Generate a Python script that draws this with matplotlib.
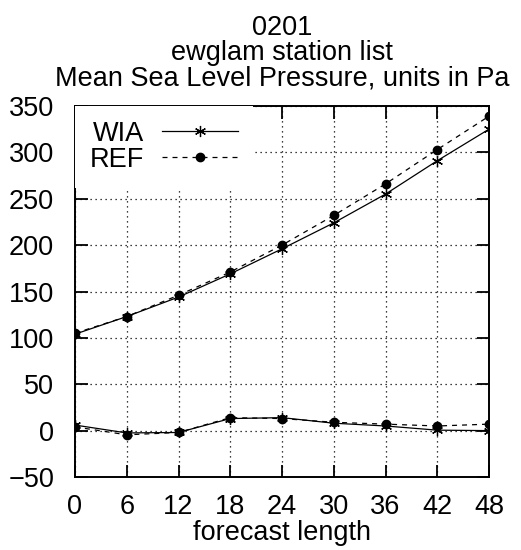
import numpy as np
import matplotlib.pyplot as plt

plt.rcParams['font.family'] = ['Liberation Sans', 'DejaVu Sans']

# forecast length (hours)
fclen = [0, 6, 12, 18, 24, 30, 36, 42, 48]

# rmse
wia_rms = [104, 123, 144, 169, 196, 224, 255, 291, 325]
ref_rms = [105, 123, 146, 171, 200, 232, 266, 303, 339]
# bias
wia_bias = [6, -2.5, -2, 13, 14, 8, 5, 0.5, 0]
ref_bias = [4, -4.5, -2, 14, 13, 9, 7, 5, 7]

fs = 19.5
fig = plt.figure(figsize=(5.21, 5.5), dpi=100)
ax = fig.add_axes([75/521, 1-477/550, 414/521, 371/550])

star = (6, 2, 0)
ax.plot(fclen, wia_rms, color='black', lw=0.9, marker=star, ms=8, mew=0.9, label='WIA')
ax.plot(fclen, ref_rms, color='black', lw=0.9, ls=(0, (4, 4)), marker='o', ms=6, label='REF')
ax.plot(fclen, wia_bias, color='black', lw=0.9, marker=star, ms=8, mew=0.9)
ax.plot(fclen, ref_bias, color='black', lw=0.9, ls=(0, (4, 4)), marker='o', ms=6)

ax.set_xlim(0, 48)
ax.set_ylim(-50, 350)
ax.set_xticks(fclen)
ax.set_yticks(np.arange(-50, 351, 50))
ax.set_yticklabels(['\u221250'] + [str(v) for v in range(0, 351, 50)])
ax.grid(True, color='black', ls=(0, (1, 3)), lw=0.9)
ax.tick_params(direction='in', top=True, right=True, length=9, width=1.3,
               labelsize=fs)
ax.tick_params(axis='y', pad=15)
ax.tick_params(axis='x', pad=12)
for s in ax.spines.values():
    s.set_linewidth(1.4)

ax.set_xlabel('forecast length', fontsize=fs, labelpad=0)
ax.set_title('0201\newglam station list\nMean Sea Level Pressure, units in Pa',
             fontsize=fs, linespacing=0.95, pad=15)

leg = ax.legend(loc='upper left', markerfirst=False, fontsize=fs, frameon=True,
                handlelength=2.8, borderaxespad=0, borderpad=0.55,
                labelspacing=0.0, handletextpad=0.65, fancybox=False)
leg.get_frame().set_edgecolor('none')
leg.get_frame().set_facecolor('white')
leg.get_frame().set_alpha(1)

fig.savefig('out.png', dpi=100)
